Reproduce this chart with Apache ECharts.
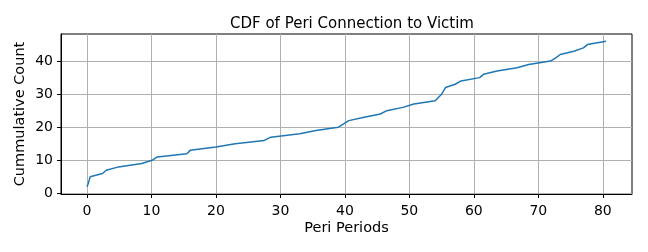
<!DOCTYPE html>
<html>
<head>
<meta charset="utf-8">
<script src="https://cdn.jsdelivr.net/npm/echarts@6/dist/echarts.min.js"></script>
<style>
html,body{margin:0;padding:0;background:#fff;}
#c{width:648px;height:252px;}
</style>
</head>
<body>
<div id="c"></div>
<script>
var titleText = "CDF of Peri Connection to Victim";
var xLabel = "Peri Periods";
var yLabel = "Cummulative Count";
var periods = [0, 0.2, 0.35, 0.5, 2.4, 3.0, 4.9, 8.5, 10.1, 10.9, 15.5, 16.0, 20.0, 23.0, 27.5, 28.5, 33.0, 35.5, 39.0, 39.8, 40.6, 43.0, 45.5, 46.5, 49.0, 50.7, 54.0, 54.5, 55.0, 55.3, 55.6, 57.1, 58.0, 60.9, 61.5, 63.6, 66.7, 68.5, 71.9, 72.7, 73.4, 75.5, 77.0, 77.6, 80.5];
var counts = [2, 3, 4, 5, 6, 7, 8, 9, 10, 11, 12, 13, 14, 15, 16, 17, 18, 19, 20, 21, 22, 23, 24, 25, 26, 27, 28, 29, 30, 31, 32, 33, 34, 35, 36, 37, 38, 39, 40, 41, 42, 43, 44, 45, 46];
var xTicks = [0, 10, 20, 30, 40, 50, 60, 70, 80];
var yTicks = [0, 10, 20, 30, 40];

var chart = echarts.init(document.getElementById('c'), null, {renderer: 'canvas'});
var font = 'DejaVu Sans';
var data = periods.map(function (p, i) { return [p, counts[i]]; });
chart.setOption({
  animation: false,
  backgroundColor: '#fff',
  title: {
    text: titleText, left: 347, top: 12, textAlign: 'center',
    textStyle: {fontFamily: font, fontSize: 15, fontWeight: 'normal', color: '#000'}
  },
  grid: {left: 61, right: 16, top: 34, bottom: 58, show: true, borderColor: '#000', borderWidth: 1, backgroundColor: 'transparent'},
  xAxis: {
    type: 'value', min: -4.025, max: 84.525,
    name: xLabel, nameLocation: 'middle', nameGap: 27, nameMoveOverlap: false,
    nameTextStyle: {fontFamily: font, fontSize: 14.5, color: '#000'},
    axisLine: {show: true, onZero: false, lineStyle: {color: '#000', width: 1}},
    axisTick: {show: true, length: 4, customValues: xTicks, lineStyle: {color: '#000'}},
    axisLabel: {customValues: xTicks, fontFamily: font, fontSize: 14, color: '#000', margin: 10},
    splitLine: {show: true, lineStyle: {color: '#b0b0b0', width: 1}}
  },
  yAxis: {
    type: 'value', min: -0.2, max: 48.2,
    name: yLabel, nameLocation: 'middle', nameGap: 33, nameRotate: 90, nameMoveOverlap: false,
    nameTextStyle: {fontFamily: font, fontSize: 14.5, color: '#000'},
    axisLine: {show: true, onZero: false, lineStyle: {color: '#000', width: 1}},
    axisTick: {show: true, length: 4, customValues: yTicks, lineStyle: {color: '#000'}},
    axisLabel: {customValues: yTicks, fontFamily: font, fontSize: 14, color: '#000', margin: 8},
    splitLine: {show: true, lineStyle: {color: '#b0b0b0', width: 1}}
  },
  series: [{
    type: 'line', data: data, showSymbol: false, symbol: 'none',
    lineStyle: {color: '#1f77b4', width: 1.5}, z: 3
  }]
});
</script>
</body>
</html>
